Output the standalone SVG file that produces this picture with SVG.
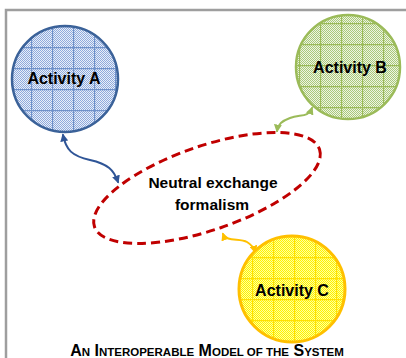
<svg xmlns="http://www.w3.org/2000/svg" width="406" height="358" viewBox="0 0 406 358">
<style>
.lbl{font-family:"Liberation Sans",Arial,sans-serif;font-weight:bold;font-size:16px;fill:#000;text-anchor:middle}
.ttl{font-family:"Liberation Sans",Arial,sans-serif;font-weight:bold;fill:#000;text-anchor:middle}
.sc{font-size:11.5px}
.conn{fill:none;stroke-width:2;stroke-linecap:round}
</style>
<defs>
<pattern id="chkA" width="2" height="2" patternUnits="userSpaceOnUse"><rect width="2" height="2" fill="#E9EFF9"/><rect width="1" height="1" fill="#8FAADC"/><rect x="1" y="1" width="1" height="1" fill="#8FAADC"/></pattern>
<pattern id="gridA" width="21" height="21" x="10" y="5" patternUnits="userSpaceOnUse"><path d="M0,0.5H21M0.5,0V21" stroke="#6F91C9" stroke-width="1.3" fill="none"/></pattern>
<pattern id="chkB" width="2" height="2" patternUnits="userSpaceOnUse"><rect width="2" height="2" fill="#EEF4E2"/><rect width="1" height="1" fill="#A9C97A"/><rect x="1" y="1" width="1" height="1" fill="#A9C97A"/></pattern>
<pattern id="gridB" width="21" height="21" x="5" y="2" patternUnits="userSpaceOnUse"><path d="M0,0.5H21M0.5,0V21" stroke="#9BBB59" stroke-width="1.3" fill="none"/></pattern>
<pattern id="chkC" width="2" height="2" patternUnits="userSpaceOnUse"><rect width="2" height="2" fill="#FFFF9E"/><rect width="1" height="1" fill="#FFF200"/><rect x="1" y="1" width="1" height="1" fill="#FFF200"/></pattern>
<pattern id="gridC" width="21" height="21" x="0" y="5" patternUnits="userSpaceOnUse"><path d="M0,0.5H21M0.5,0V21" stroke="#FFE000" stroke-width="1.3" fill="none"/></pattern>
<marker id="mBlue" viewBox="0 0 10 10" refX="8" refY="5" markerWidth="4" markerHeight="4" orient="auto-start-reverse"><path d="M0,0L10,5L0,10z" fill="#2F5597"/></marker>
<marker id="mGreen" viewBox="0 0 10 10" refX="8" refY="5" markerWidth="4" markerHeight="4" orient="auto-start-reverse"><path d="M0,0L10,5L0,10z" fill="#9BBB59"/></marker>
<marker id="mOrange" viewBox="0 0 10 10" refX="8" refY="5" markerWidth="4" markerHeight="4" orient="auto-start-reverse"><path d="M0,0L10,5L0,10z" fill="#FFC000"/></marker>
</defs>
<rect width="406" height="358" fill="#fff"/>
<path d="M6,358V10H406" fill="none" stroke="#9E9E9E" stroke-width="2.5"/>
<g id="connectors">
<path class="conn" stroke="#2F5597" marker-start="url(#mBlue)" marker-end="url(#mBlue)" d="M63,135 C66,150 72,156 90,160 C108,164 114,170 118,182"/>
<path class="conn" stroke="#9BBB59" marker-start="url(#mGreen)" marker-end="url(#mGreen)" d="M312,108 C308,118 300,114 290,118 C282,121 278,124 277,131"/>
<path class="conn" stroke="#FFC000" marker-start="url(#mOrange)" marker-end="url(#mOrange)" d="M223,234 C226,242 240,238 247,242 C252,245 254,248 255,252"/>
</g>
<g id="activityA">
<circle cx="65" cy="79" r="53" fill="url(#chkA)"/>
<circle cx="65" cy="79" r="53" fill="url(#gridA)" stroke="#3B6299" stroke-width="2.5"/>
<text class="lbl" x="64" y="84">Activity A</text>
</g>
<g id="activityB">
<circle cx="348" cy="67" r="52" fill="url(#chkB)"/>
<circle cx="348" cy="67" r="52" fill="url(#gridB)" stroke="#9BBB59" stroke-width="2.5"/>
<text class="lbl" x="350" y="73">Activity B</text>
</g>
<g id="activityC">
<circle cx="292" cy="289" r="53" fill="url(#chkC)"/>
<circle cx="292" cy="289" r="53" fill="url(#gridC)" stroke="#FFC000" stroke-width="3"/>
<text class="lbl" x="292" y="296">Activity C</text>
</g>
<g id="neutral">
<ellipse cx="207" cy="188" rx="119" ry="42" transform="rotate(-19 207 188)" fill="none" stroke="#C00000" stroke-width="3" stroke-dasharray="9 5"/>
<text class="lbl" x="213" y="188" style="font-size:15.5px">Neutral exchange</text>
<text class="lbl" x="212" y="210" style="font-size:15.5px">formalism</text>
</g>
<text class="ttl" x="207" y="356" font-size="16">A<tspan class="sc">N</tspan> I<tspan class="sc">NTEROPERABLE</tspan> M<tspan class="sc">ODEL OF THE</tspan> S<tspan class="sc">YSTEM</tspan></text>
</svg>
